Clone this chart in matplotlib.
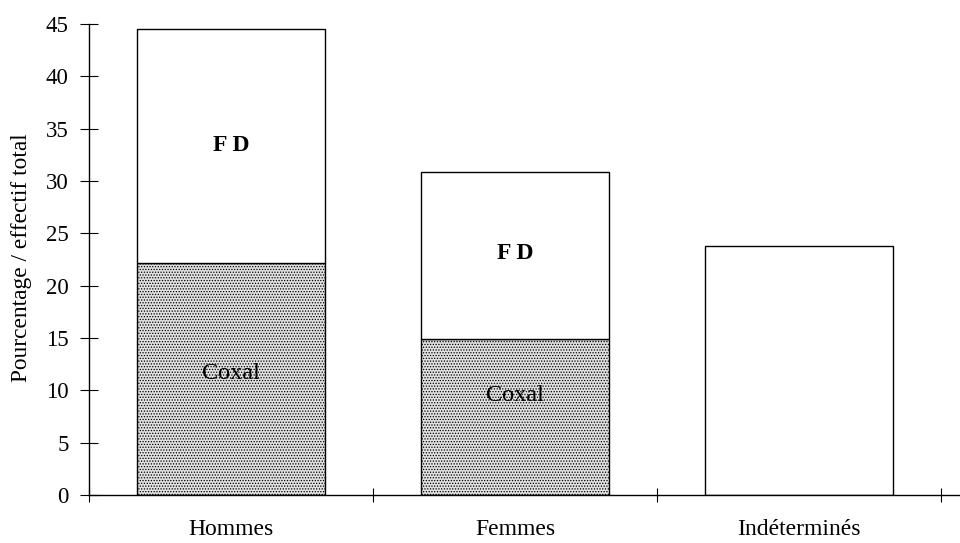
import numpy as np
import matplotlib.pyplot as plt

plt.rcParams['font.family'] = ['Liberation Serif', 'DejaVu Serif']
plt.rcParams['hatch.linewidth'] = 0.6
plt.rcParams['hatch.color'] = '#858585'

# Data (percent of total sample)
categories = ['Hommes', 'Femmes', 'Indéterminés']
coxal = [22.2, 14.9, 0.0]
fd = [22.3, 16.0, 23.8]
# label heights
coxal_label_y = [11.6, 9.5]
fd_label_y = [33.4, 23.1]

x = np.arange(len(categories))

fig = plt.figure(figsize=(9.6, 5.43), dpi=100)
ax = fig.add_axes([0.0927, 0.0884, 0.9073, 0.8674])

ax.bar(x, coxal, width=0.66, facecolor='#e0e0e0', edgecolor='black',
       linewidth=1.0, hatch='......')
ax.bar(x, fd, bottom=coxal, width=0.66, facecolor='white', edgecolor='black',
       linewidth=1.0)

for i in range(2):
    ax.text(x[i], fd_label_y[i], 'F D', ha='center', va='center',
            fontsize=17, fontweight='bold')
    ax.text(x[i], coxal_label_y[i], 'Coxal', ha='center', va='center',
            fontsize=17.5)

ax.set_xlim(-0.5, 2.567)
ax.set_ylim(0, 45)
ax.set_yticks(np.arange(0, 46, 5))
ax.set_xticks(x)
ax.set_xticklabels(categories, fontsize=17)
ax.set_xticks([-0.5, 0.5, 1.5, 2.5], minor=True)
ax.tick_params(axis='x', which='major', length=0, pad=17)
ax.tick_params(axis='x', which='minor', direction='inout', length=10, width=0.8)
ax.tick_params(axis='y', direction='inout', length=13, width=0.8,
               labelsize=16.5, pad=8)
ax.set_ylabel('Pourcentage / effectif total', fontsize=16.8)
ax.yaxis.set_label_coords(-0.065, 0.503)

for s in ['top', 'right']:
    ax.spines[s].set_visible(False)
ax.spines['left'].set_linewidth(1.0)
ax.spines['bottom'].set_linewidth(1.0)

fig.savefig('out.png', dpi=100)
